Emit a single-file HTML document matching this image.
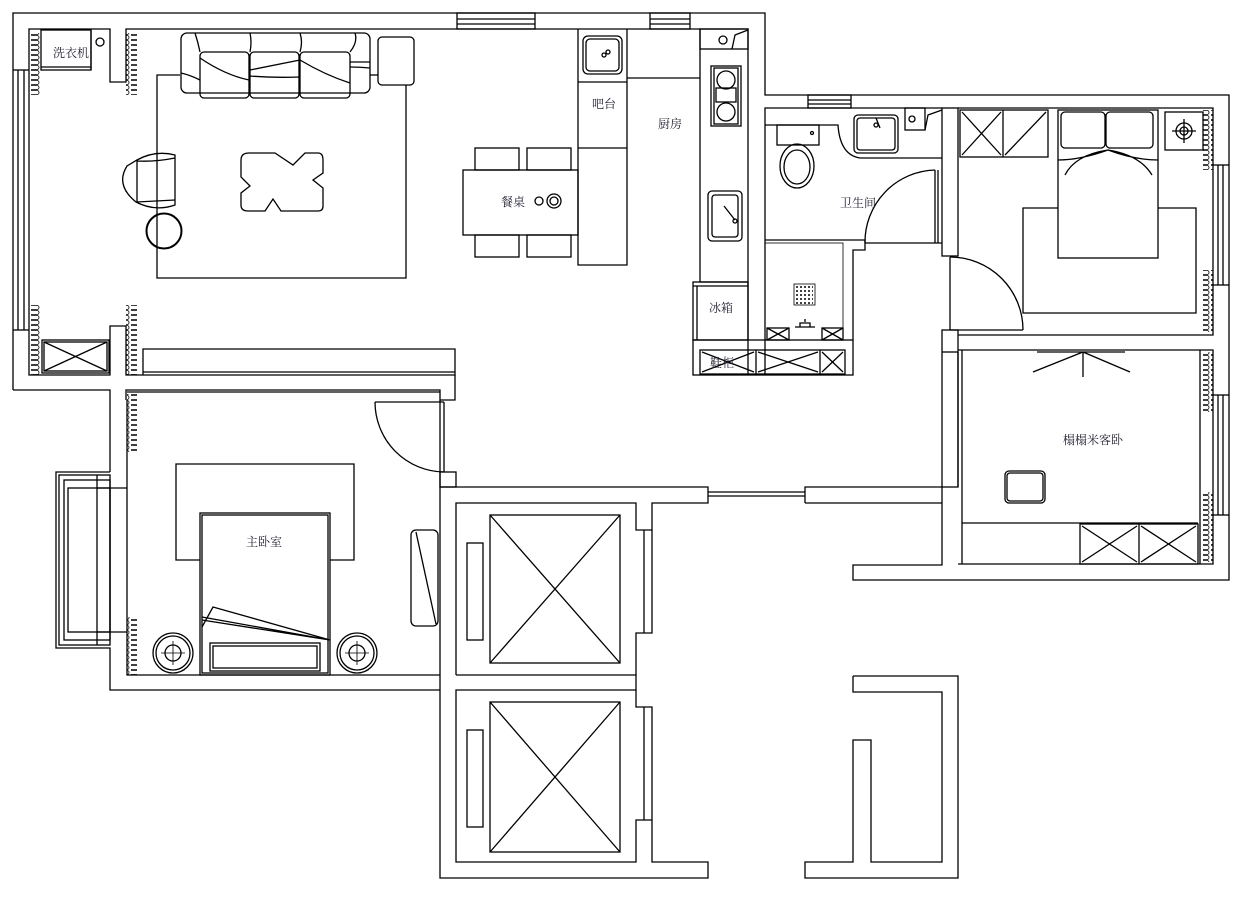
<!DOCTYPE html>
<html><head><meta charset="utf-8">
<style>
html,body{margin:0;padding:0;background:#fff;}
svg{display:block}
text{font-family:"Liberation Serif","Noto Serif CJK SC","Noto Sans CJK SC",serif;font-size:12px;fill:#223}
</style></head><body>
<svg width="1249" height="906" viewBox="0 0 1249 906" xmlns="http://www.w3.org/2000/svg">
<defs>
<pattern id="cur" width="10" height="5" patternUnits="userSpaceOnUse">
<path d="M1,0.5 H7 A2,2 0 0 1 7,4.5 H1" fill="none" stroke="#000" stroke-width="0.8"/>
</pattern>
</defs>
<g fill="none" stroke="#000" stroke-width="1.3">
<polyline points="13,390 13,13 765,13 765,95 1229,95 1229,580 942,580"/>
<polyline points="29,70 29,29 110,29 110,82 126,82 126,29 700,29"/>
<line x1="18" y1="70" x2="18" y2="330"/><line x1="24" y1="70" x2="24" y2="330"/><line x1="29" y1="70" x2="29" y2="330"/>
<line x1="13" y1="70" x2="29" y2="70"/><line x1="13" y1="330" x2="29" y2="330"/>
<polyline points="29,330 29,375 110,375 110,326 126,326 126,375 455,375 455,349 143,349 143,375"/>
<line x1="143" y1="372" x2="455" y2="372"/>
<polyline points="13,390 110,390 110,400"/>
<polyline points="126,400 126,390 440,390 440,400 455,400 455,375"/>
<rect x="457" y="13" width="78" height="16"/><line x1="457" y1="19" x2="535" y2="19"/><line x1="457" y1="24" x2="535" y2="24"/>
<rect x="650" y="13" width="40" height="16"/><line x1="650" y1="19" x2="690" y2="19"/><line x1="650" y1="24" x2="690" y2="24"/>
<rect x="808" y="95" width="43" height="13"/><line x1="808" y1="100" x2="851" y2="100"/><line x1="808" y1="104" x2="851" y2="104"/>
<rect x="41" y="30" width="50" height="40"/><line x1="41" y1="67" x2="91" y2="67"/><line x1="91" y1="30" x2="91" y2="70"/>
<circle cx="100" cy="42" r="4"/>
<rect x="42" y="340" width="67" height="33"/><rect x="44" y="342" width="63" height="29"/>
<line x1="44" y1="342" x2="107" y2="371"/><line x1="107" y1="342" x2="44" y2="371"/>
<rect x="30" y="33" width="11" height="62" fill="url(#cur)" stroke="none"/>
<rect x="126" y="33" width="11" height="62" fill="url(#cur)" stroke="none"/>
<rect x="30" y="305" width="11" height="70" fill="url(#cur)" stroke="none"/>
<rect x="126" y="305" width="11" height="70" fill="url(#cur)" stroke="none"/>
<rect x="127" y="394" width="10" height="58" fill="url(#cur)" stroke="none"/>
<rect x="127" y="617" width="10" height="58" fill="url(#cur)" stroke="none"/>
<rect x="1203" y="110" width="10" height="60" fill="url(#cur)" stroke="none"/>
<rect x="1203" y="270" width="10" height="62" fill="url(#cur)" stroke="none"/>
<rect x="1203" y="352" width="10" height="60" fill="url(#cur)" stroke="none"/>
<rect x="1203" y="492" width="10" height="70" fill="url(#cur)" stroke="none"/>
<polyline points="180,75 157,75 157,278 406,278 406,85"/>
<rect x="181" y="33" width="189" height="60" rx="6"/>
<rect x="200" y="52" width="49" height="46" rx="4"/><rect x="250" y="52" width="49" height="46" rx="4"/><rect x="300" y="52" width="50" height="46" rx="4"/>
<path d="M200,58 Q225,75 249,80 M250,70 Q275,65 300,60 M250,76 Q275,78 300,77 M300,60 Q325,75 350,83 M181,73 Q190,75 200,80 M350,62 Q360,62 370,62 M350,67 Q360,67 370,68"/>
<path d="M195,33 Q198,42 200,52 M250,33 Q252,42 250,52 M300,33 Q303,42 300,52 M355,33 Q358,42 350,52"/>
<rect x="378" y="37" width="36" height="48" rx="4"/><line x1="370" y1="75" x2="378" y2="75"/>
<path d="M137,160 Q155,150 175,155 L175,205 Q155,212 136,202 Q115,185 127,166 Z"/>
<path d="M137,160 L137,202 L175,200 M137,161 Q155,162 175,158"/>
<circle cx="164" cy="231" r="17.5" stroke-width="2"/>
<path d="M249,153 H275 L293,165 L305,153 H318 Q323,153 323,160 V173 L313,180 L323,188 V206 Q323,211 318,211 H281 L273,199 L265,211 H248 Q241,211 241,205 V193 L250,186 L241,177 V160 Q241,153 249,153 Z"/>
<rect x="475" y="148" width="44" height="22"/><rect x="527" y="148" width="44" height="22"/>
<rect x="475" y="235" width="44" height="22"/><rect x="527" y="235" width="44" height="22"/>
<rect x="463" y="170" width="115" height="65"/>
<circle cx="539" cy="201" r="4"/><circle cx="554" cy="201" r="7"/><circle cx="554" cy="201" r="4"/>
<polyline points="578,29 578,265 627,265 627,29"/>
<line x1="578" y1="82" x2="627" y2="82"/><line x1="578" y1="148" x2="627" y2="148"/>
<line x1="627" y1="78" x2="700" y2="78"/>
<rect x="583" y="36" width="39" height="38" rx="5"/><rect x="586" y="39" width="33" height="32" rx="4"/>
<circle cx="604" cy="55" r="2"/><circle cx="608" cy="52" r="2"/>
<polyline points="700,29 700,282 748,282"/>
<polyline points="700,29 748,29 748,375"/>
<rect x="700" y="29" width="48" height="20"/>
<circle cx="723" cy="40" r="4"/><path d="M732,49 L735,35 L748,30"/>
<rect x="711" y="66" width="30" height="60"/>
<rect x="714" y="68" width="24" height="56"/>
<circle cx="726" cy="80" r="9"/><circle cx="726" cy="112" r="9"/><rect x="716" y="88" width="20" height="14"/>
<rect x="708" y="191" width="34" height="50" rx="4"/><rect x="712" y="195" width="26" height="42" rx="3"/>
<line x1="724" y1="206" x2="735" y2="220"/><circle cx="735" cy="221" r="2"/>
<rect x="693" y="282" width="55" height="58"/><line x1="697" y1="286" x2="697" y2="340"/><line x1="693" y1="286" x2="748" y2="286"/>
<rect x="693" y="340" width="160" height="35"/>
<rect x="700" y="350" width="145" height="24"/>
<line x1="756" y1="350" x2="756" y2="374"/><line x1="820" y1="350" x2="820" y2="374"/>
<line x1="702" y1="352" x2="754" y2="372"/><line x1="754" y1="352" x2="702" y2="372"/>
<line x1="758" y1="352" x2="818" y2="372"/><line x1="818" y1="352" x2="758" y2="372"/>
<line x1="822" y1="352" x2="843" y2="372"/><line x1="843" y1="352" x2="822" y2="372"/>
<polyline points="765,375 765,108 942,108"/>
<polyline points="765,240 865,240 865,250 853,250 853,340"/>
<rect x="765" y="243" width="78" height="97" stroke-width="0.8"/>
<rect x="777" y="125" width="42" height="20"/><ellipse cx="797" cy="166" rx="17" ry="22"/><ellipse cx="797" cy="167" rx="13" ry="17"/>
<circle cx="812" cy="133" r="1.5"/>
<path d="M765,125 H838 Q840,155 860,158 H942"/>
<rect x="854" y="115" width="44" height="38" rx="4"/><rect x="857" y="118" width="38" height="32" rx="3"/>
<circle cx="876" cy="125" r="2"/><line x1="876" y1="118" x2="880" y2="128"/>
<rect x="905" y="108" width="20" height="22"/><circle cx="912" cy="119" r="3"/><path d="M925,130 L928,115 L942,110"/>
<rect x="794" y="284" width="21" height="21" stroke-width="0.8"/>
<path d="M796,287 h17 M796,291 h17 M796,295 h17 M796,299 h17 M796,303 h17" stroke-dasharray="2,2" stroke-width="1.5"/>
<rect x="767" y="328" width="22" height="12"/><rect x="822" y="328" width="21" height="12"/>
<line x1="767" y1="328" x2="789" y2="340"/><line x1="789" y1="328" x2="767" y2="340"/>
<line x1="822" y1="328" x2="843" y2="340"/><line x1="843" y1="328" x2="822" y2="340"/>
<path d="M795,327 h20 M800,327 v-4 h10 v4 M805,322 v-3"/>
<line x1="935" y1="170" x2="935" y2="243"/><line x1="938" y1="170" x2="938" y2="243"/>
<path d="M935,170 A72,72 0 0 0 865,243"/>
<line x1="865" y1="243" x2="942" y2="243"/>
<rect x="942" y="108" width="16" height="148"/>
<rect x="942" y="330" width="16" height="157"/>
<line x1="942" y1="352" x2="958" y2="352"/>
<polyline points="958,108 1213,108 1213,335 958,335"/>
<line x1="1213" y1="165" x2="1229" y2="165"/><line x1="1213" y1="285" x2="1229" y2="285"/>
<line x1="1218" y1="165" x2="1218" y2="285"/><line x1="1223" y1="165" x2="1223" y2="285"/>
<rect x="960" y="110" width="88" height="47"/><line x1="1003" y1="110" x2="1003" y2="157"/>
<line x1="962" y1="112" x2="1001" y2="155"/><line x1="1001" y1="112" x2="962" y2="155"/>
<line x1="1046" y1="112" x2="1005" y2="155"/>
<rect x="1058" y="110" width="100" height="148"/>
<rect x="1061" y="112" width="44" height="36" rx="4"/><rect x="1106" y="112" width="47" height="36" rx="4"/>
<path d="M1065,175 Q1075,155 1108,150 Q1140,155 1152,175 M1058,160 Q1080,160 1108,150 Q1135,160 1158,160"/>
<rect x="1165" y="112" width="38" height="38"/><circle cx="1184" cy="131" r="8"/><circle cx="1184" cy="131" r="4"/>
<path d="M1172,131 h24 M1184,119 v24"/>
<polyline points="1058,208 1023,208 1023,313 1196,313 1196,208 1158,208"/>
<line x1="950" y1="257" x2="950" y2="330"/>
<path d="M950,257 A73,73 0 0 1 1023,330"/>
<line x1="950" y1="330" x2="1023" y2="330"/>
<polyline points="958,350 1213,350 1213,564 958,564"/>
<line x1="962" y1="350" x2="962" y2="564"/>
<line x1="958" y1="352" x2="958" y2="487"/>
<line x1="1213" y1="395" x2="1229" y2="395"/><line x1="1213" y1="515" x2="1229" y2="515"/>
<line x1="1218" y1="395" x2="1218" y2="515"/><line x1="1223" y1="395" x2="1223" y2="515"/>
<line x1="1200" y1="350" x2="1200" y2="564"/>
<line x1="962" y1="523" x2="1198" y2="523"/>
<rect x="1080" y="524" width="118" height="40"/><line x1="1139" y1="524" x2="1139" y2="564"/>
<line x1="1082" y1="526" x2="1137" y2="562"/><line x1="1137" y1="526" x2="1082" y2="562"/>
<line x1="1141" y1="526" x2="1196" y2="562"/><line x1="1196" y1="526" x2="1141" y2="562"/>
<rect x="1005" y="471" width="40" height="32" rx="4"/><rect x="1007" y="473" width="36" height="28" rx="3"/>
<path d="M1037,352 H1125 M1033,372 L1083,352 L1130,372 M1083,352 V377"/>
<polyline points="440,487 708,487 708,503 652,503 652,530 636,530 636,503 456,503 456,675"/>
<line x1="708" y1="492" x2="805" y2="492"/><line x1="708" y1="496" x2="805" y2="496"/>
<polyline points="805,503 805,487 942,487 942,565 853,565 853,580 942,580"/>
<line x1="805" y1="503" x2="942" y2="503"/>
<polyline points="440,472 440,878 708,878 708,862 652,862 652,820 636,820 636,862 456,862 456,690 636,690 636,675 456,675"/>
<path d="M652,530 V633 H636 V675 M636,690 V707 H652 V820"/>
<line x1="644" y1="530" x2="644" y2="633"/><line x1="644" y1="707" x2="644" y2="820"/>
<rect x="490" y="515" width="130" height="148"/><line x1="490" y1="515" x2="620" y2="663"/><line x1="620" y1="515" x2="490" y2="663"/>
<rect x="467" y="543" width="16" height="97"/>
<rect x="490" y="702" width="130" height="150"/><line x1="490" y1="702" x2="620" y2="852"/><line x1="620" y1="702" x2="490" y2="852"/>
<rect x="467" y="730" width="16" height="97"/>
<polyline points="127,400 127,675 440,675"/>
<line x1="127" y1="392" x2="440" y2="392"/>
<line x1="110" y1="400" x2="110" y2="472"/>
<polyline points="110,472 56,472 56,648 110,648 110,690 440,690"/>
<rect x="59" y="475" width="51" height="170"/><rect x="64" y="480" width="46" height="160"/><rect x="68" y="488" width="42" height="144"/>
<line x1="97" y1="488" x2="127" y2="488"/><line x1="97" y1="632" x2="127" y2="632"/>
<line x1="97" y1="475" x2="97" y2="645"/>
<line x1="440" y1="400" x2="440" y2="472"/><line x1="444" y1="402" x2="444" y2="472"/>
<rect x="440" y="472" width="16" height="15"/>
<path d="M375,402 A70,70 0 0 0 444,472"/><line x1="375" y1="402" x2="444" y2="402"/>
<polyline points="200,560 176,560 176,464 354,464 354,560 330,560"/>
<rect x="200" y="513" width="130" height="162"/><rect x="202" y="515" width="126" height="158"/>
<rect x="210" y="643" width="110" height="28"/><rect x="213" y="646" width="104" height="22"/>
<path d="M202,627 L213,607 L330,640 L202,617 M202,620 L330,640"/>
<circle cx="173" cy="653" r="20"/><circle cx="173" cy="653" r="17"/><circle cx="173" cy="653" r="8"/>
<circle cx="357" cy="653" r="20"/><circle cx="357" cy="653" r="17"/><circle cx="357" cy="653" r="8"/>
<path d="M161,653 h24 M173,641 v24 M345,653 h24 M357,641 v24" stroke-width="0.8"/>
<rect x="411" y="530" width="27" height="96" rx="5"/><line x1="416" y1="532" x2="436" y2="624"/>
<polyline points="853,676 958,676 958,878 805,878 805,862 853,862 853,740 871,740 871,862 942,862 942,692 853,692 853,676"/>
</g>
<g>
<text x="53" y="57">洗衣机</text>
<text x="592" y="108">吧台</text>
<text x="658" y="128">厨房</text>
<text x="501" y="206">餐桌</text>
<text x="709" y="312">冰箱</text>
<text x="710" y="367">鞋柜</text>
<text x="840" y="207">卫生间</text>
<text x="1063" y="444">榻榻米客卧</text>
<text x="246" y="546">主卧室</text>
</g>
</svg>
</body></html>
